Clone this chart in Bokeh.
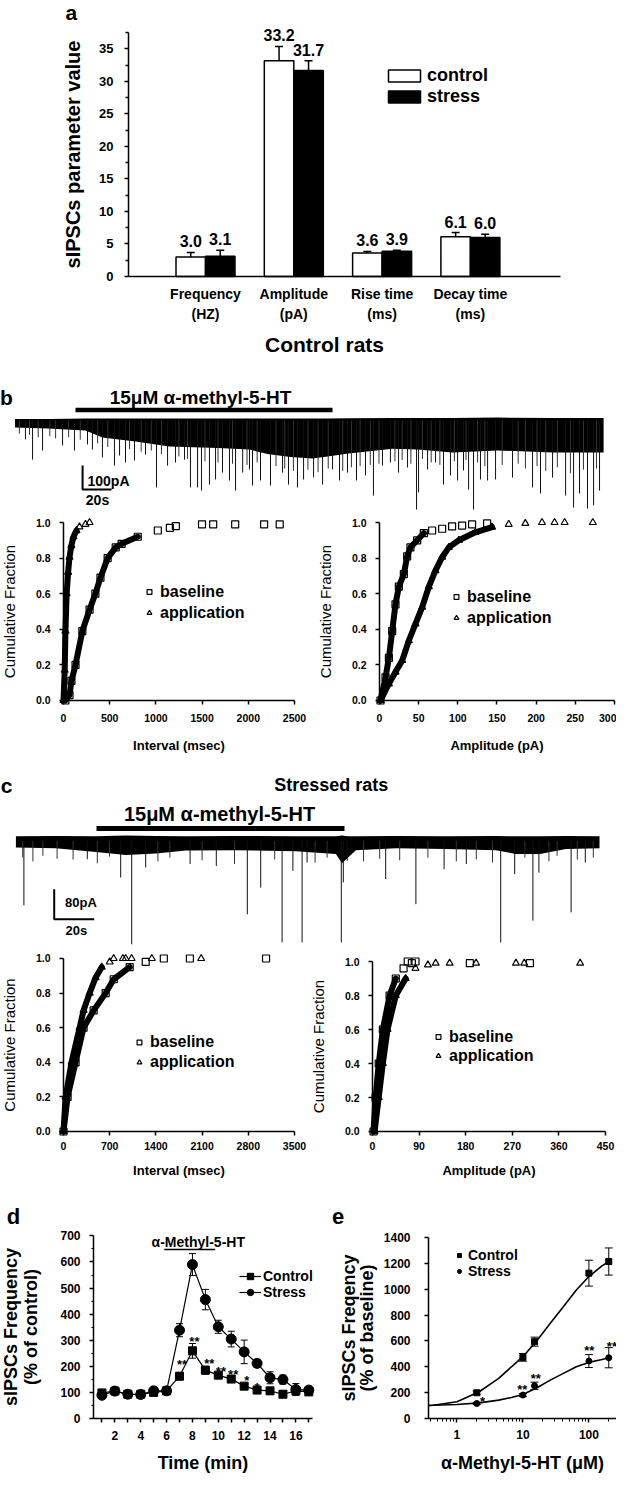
import numpy as np
from bokeh.plotting import figure
from bokeh.models import (Range1d, FixedTicker, Label, Legend, LegendItem, Whisker,
                          ColumnDataSource, TeeHead, PrintfTickFormatter)
from bokeh.layouts import column, row
from bokeh.embed import file_html
from bokeh.resources import INLINE

FONT = "Liberation Sans"

# ---------------- data: panel a ----------------
a_tick_labels = ["Frequency\n(HZ)", "Amplitude\n(pA)", "Rise time\n(ms)", "Decay time\n(ms)"]
a_control = [3.0, 33.2, 3.6, 6.1]
a_stress = [3.1, 31.7, 3.9, 6.0]
a_control_sem = [0.7, 2.2, 0.25, 0.65]
a_stress_sem = [0.95, 1.5, 0.12, 0.5]

# ---------------- data: panel b trace (s, pA) ----------------
b_band_t = [0, 22.4, 48.6, 60.3, 83.1, 106.6, 140, 161.7, 174.1, 190, 205.2, 215.5, 230, 260.3, 277.6, 301.7, 332.8, 370.7, 405.9]
b_band_top = [6, 6, 8, 8, 8, 8, 8, 8, 8, 8, 8, 8, 9, 10, 10, 10, 12, 10, 10]
b_band_bot = [-29, -33, -42, -71, -88, -108, -115, -121, -140, -152, -158, -150, -138, -118, -121, -133, -125, -133, -133]
b_spike_t = [7.2, 12.1, 19.0, 32.8, 41.0, 50.0, 53.4, 60.3, 68.6, 72.1, 76.2, 82.4, 90.0, 97.6, 105.2,
             110.7, 116.9, 121.0, 125.9, 128.6, 134.1, 138.3, 143.1, 147.9, 152.1, 157.0, 161.7, 163.8,
             169.3, 176.2, 184.5, 188.6, 194.8, 199.0, 205.9, 212.1, 219.0, 223.8, 229.3, 235.5, 241.7,
             247.2, 253.4, 258.9, 264.5, 270.7, 276.9, 278.3, 284.5, 290.0, 295.5, 300.3, 305.2, 309.3,
             312.8, 316.2, 321.0, 325.9, 331.4, 343.1, 356.9, 362.4, 370.7, 379.7, 385.2, 389.3, 394.8,
             399.0, 403.1]
b_spike_amp = [-79, -163, -125, -104, -125, -100, -121, -154, -188, -146, -175, -167, -142, -279, -188,
               -175, -163, -279, -279, -292, -267, -246, -217, -250, -292, -217, -204, -271,
               -250, -271, -217, -267, -279, -246, -237, -267, -204, -250, -217, -250, -229,
               -313, -188, -175, -217, -196, -371, -300, -204, -175, -267, -229, -250, -208,
               -288, -371, -246, -250, -246, -238, -279, -304, -238, -313, -363, -304, -367,
               -354, -292]
b_mid_t = [3, 10, 16, 24, 28, 37, 45, 57, 64, 79, 87, 94, 101, 113, 119, 131, 140, 150, 160, 167,
           180, 186, 192, 202, 209, 216, 226, 232, 238, 245, 251, 262, 267, 273, 281, 287, 293, 303,
           311, 319, 324, 336, 347, 352, 360, 366, 374, 383, 392, 401]
b_mid_amp = [-55, -60, -70, -65, -75, -70, -80, -95, -110, -120, -130, -125, -140, -150, -160, -170,
             -175, -180, -185, -175, -190, -200, -210, -205, -215, -200, -210, -195, -190, -185, -180,
             -170, -165, -180, -160, -175, -185, -170, -165, -175, -190, -185, -180, -200, -190, -210,
             -195, -220, -205, -200]
b_drug = [41.7, 219.0]          # application period (s)

# ---------------- data: panel b cumulative ----------------
b_int_app_x = [0, 13, 21, 34, 50, 65, 85, 108, 140, 173, 238, 282]
b_int_app_y = [0.0, 0.17, 0.39, 0.60, 0.72, 0.805, 0.87, 0.92, 0.955, 0.975, 0.99, 1.0]
b_int_base_x = [20, 65, 86, 130, 204, 282, 345, 400, 478, 565, 629, 804, 1021, 1151, 1216]
b_int_base_y = [0.0, 0.03, 0.11, 0.20, 0.39, 0.51, 0.60, 0.69, 0.80, 0.86, 0.88, 0.92, 0.955, 0.97, 0.98]
b_int_base_iso_x = [1499, 1620, 1858, 2171, 2340]
b_int_base_iso_y = [0.99, 0.99, 0.99, 0.99, 0.99]

b_amp_base_x = [1.3, 7.7, 12, 16.2, 20.4, 24.7, 31.1, 35.3, 39.5, 48.1, 56.6, 67.2, 80, 92.7, 105.5, 118.2, 137.4]
b_amp_base_y = [0.0, 0.13, 0.24, 0.39, 0.54, 0.64, 0.71, 0.81, 0.86, 0.90, 0.94, 0.955, 0.965, 0.978, 0.983, 0.99, 0.995]
b_amp_app_x = [1.3, 12, 20.4, 29, 37.5, 45.9, 54.5, 63, 71.4, 80, 88.5, 101.3, 122.4, 143.7, 165, 186.2, 207.5]
b_amp_app_y = [0.0, 0.094, 0.16, 0.225, 0.337, 0.43, 0.524, 0.64, 0.73, 0.805, 0.86, 0.90, 0.945, 0.974, 0.99, 0.995, 1.0]
b_amp_app_iso_x = [223.5, 236.4, 272.4]
b_amp_app_iso_y = [1.0, 1.0, 1.0]

# ---------------- data: panel c trace (s, pA) ----------------
c_band_t = [0, 20, 40, 55, 70, 85, 110, 140, 160, 163, 166, 170, 190, 215, 240, 250, 262, 275, 291.8]
c_band_top = [12, 13, 12, 14, 13, 12, 13, 12, 12, 14, 12, 12, 13, 12, 13, 12, 12, 13, 12]
c_band_bot = [-18, -20, -30, -38, -34, -26, -25, -28, -35, -60, -45, -25, -20, -22, -25, -35, -35, -22, -20]
c_spike_t = [4.0, 35.7, 52.4, 57.9, 64.9, 87.1, 100.2, 115.7, 122.4, 133.1, 138.5, 143.1, 145.6, 162.7,
             163.7, 165.7, 184.9, 200.0, 214.1, 225.2, 242.4, 249.4, 258.5, 261.5, 277.6, 284.7]
c_spike_amp = [-172, -49, -98, -276, -71, -62, -67, -196, -125, -271, -80, -271, -58, -271,
               -111, -53, -102, -169, -76, -62, -271, -89, -213, -85, -191, -58]
c_mid_t = [3.4, 8.5, 13.5, 20.6, 28.6, 40.7, 46.8, 71.0, 77.0, 93.1, 109.3, 129.4, 149.6, 155.6,
           173.8, 181.9, 191.9, 206.0, 220.2, 230.2, 238.3, 254.5, 266.5, 270.6, 280.7, 288.7]
c_mid_amp = [-45, -55, -40, -48, -50, -60, -42, -55, -45, -52, -62, -50, -58, -45, -55, -48, -52,
             -45, -55, -50, -58, -45, -55, -40, -50, -45]
c_drug = [40.3, 164.3]

# ---------------- data: panel c cumulative ----------------
c_int_app_x = [0, 32, 122, 244, 304, 396, 487, 579, 700, 942]
c_int_app_y = [0.0, 0.2, 0.4, 0.6, 0.7, 0.8, 0.89, 0.95, 0.98, 1.0]
c_int_app_iso_x = [760, 900, 1032, 1338, 2086]
c_int_app_iso_y = [1.0, 1.0, 1.0, 1.0, 1.0]
c_int_base_x = [0, 62, 183, 304, 457, 639, 761, 1003, 1246, 1520]
c_int_base_y = [0.0, 0.2, 0.4, 0.6, 0.7, 0.8, 0.88, 0.95, 0.98, 1.0]
c_int_base_iso_x = [1915, 3069]
c_int_base_iso_y = [1.0, 1.0]

c_amp_base_x = [2, 6, 12, 20, 33, 45, 60, 76]
c_amp_base_y = [0.0, 0.2, 0.4, 0.6, 0.8, 0.9, 0.96, 0.99]
c_amp_base_iso_x = [68, 83, 188, 304]
c_amp_base_iso_y = [1.0, 1.0, 0.99, 0.99]
c_amp_app_x = [4, 12, 20, 29, 45, 64, 83, 107]
c_amp_app_y = [0.0, 0.2, 0.4, 0.6, 0.8, 0.9, 0.96, 0.98]
c_amp_app_iso_x = [122, 149, 200, 277, 293, 401]
c_amp_app_iso_y = [0.99, 0.99, 0.99, 0.99, 0.99, 0.99]

# ---------------- data: panel d ----------------
d_time = list(range(1, 18))
d_control = [99, 106, 94, 94, 101, 107, 163, 260, 186, 167, 152, 125, 110, 107, 94, 107, 103]
d_control_sem = [6, 6, 6, 6, 6, 8, 14, 28, 15, 10, 10, 8, 6, 6, 6, 6, 6]
d_stress = [90, 106, 94, 93, 107, 107, 339, 590, 456, 352, 305, 256, 212, 157, 150, 112, 110]
d_stress_sem = [10, 8, 8, 8, 10, 10, 25, 42, 39, 25, 30, 45, 15, 23, 17, 23, 10]
d_star_x = [7.2, 8.15, 9.3, 10.2, 11.15, 12.2, 13.0]
d_star_y = [219, 307, 223, 192, 180, 158, 131]
d_star_text = ["**", "**", "**", "**", "**", "*", "*"]
d_drug = [5.82, 9.76]

# ---------------- data: panel e ----------------
e_conc = [2, 10, 15, 100, 200]
e_control = [199, 473, 594, 1124, 1214]
e_control_sem = [12, 30, 35, 100, 105]
e_stress = [116, 181, 253, 444, 470]
e_stress_sem = [8, 12, 28, 50, 78]
e_fit_conc = [0.37, 0.44, 1, 2.18, 4.3, 6.7, 10, 16.6, 26, 41, 64.5, 100, 158, 200]
e_fit_control = [101, 103, 129, 207, 310, 400, 478, 607, 736, 865, 994, 1098, 1180, 1214]
e_fit_stress = [100, 103, 108, 121, 142, 163, 186, 240, 297, 349, 400, 434, 457, 470]
e_star_x = [2.44, 9.77, 15.7, 101, 223]
e_star_y = [155, 245, 336, 550, 581]
e_star_text = ["*", "**", "**", "**", "**"]


# ---------------- helpers ----------------
def make_fig(w, h, xr, yr, x_axis_type="linear", axes=True):
    kw = {}
    if not axes:
        kw = dict(x_axis_location=None, y_axis_location=None)
    p = figure(width=w, height=h, x_range=Range1d(*xr), y_range=Range1d(*yr),
               min_border=0, min_border_left=0, min_border_right=0, min_border_top=0, min_border_bottom=0,
               output_backend="svg", toolbar_location=None, x_axis_type=x_axis_type, **kw)
    p.xgrid.visible = False
    p.ygrid.visible = False
    p.outline_line_color = None
    return p


def style_axis(ax, size, loc, bounds, tick_out=4, standoff=8, lw=1.5):
    ax.fixed_location = loc
    ax.bounds = bounds
    ax.axis_line_color = "black"
    ax.axis_line_width = lw
    ax.major_tick_line_color = "black"
    ax.major_tick_line_width = lw
    ax.major_tick_in = 0
    ax.major_tick_out = tick_out
    ax.minor_tick_line_color = None
    ax.major_label_text_font = FONT
    ax.major_label_text_font_style = "bold"
    ax.major_label_text_font_size = f"{size}px"
    ax.major_label_text_color = "black"
    ax.major_label_standoff = standoff
    ax.axis_label_text_font = FONT
    ax.axis_label_text_color = "black"


def add_label(p, x, y, text, size, bold=True, align="center", baseline="middle", font=FONT):
    p.add_layout(Label(x=x, y=y, text=text, text_font=font, text_font_size=f"{size}px",
                       text_font_style="bold" if bold else "normal", text_align=align,
                       text_baseline=baseline, text_color="black"))


def add_legend(p, items, loc, gw, gh, lh, standoff, size, spacing=0):
    lg = Legend(items=items, location=loc, orientation="vertical", glyph_width=gw, glyph_height=gh,
                label_height=lh, label_standoff=standoff, spacing=spacing, padding=0, margin=0,
                border_line_color=None, background_fill_alpha=0, label_text_font=FONT,
                label_text_font_size=f"{size}px", label_text_font_style="bold",
                label_text_color="black")
    p.add_layout(lg)


# ---------------- panel a ----------------
pa = make_fig(616, 366, (-1.3216, 5.6546), (-13.846, 42.46))
cats = np.arange(1, 5)
ctrl_x = cats - 0.167
str_x = cats + 0.167
r_ctrl = pa.vbar(x=ctrl_x, top=a_control, width=0.334, fill_color="white", line_color="black", line_width=1.5)
r_str = pa.vbar(x=str_x, top=a_stress, width=0.334, fill_color="black", line_color="black", line_width=1.5)
for xs, mean, sem in ((ctrl_x, a_control, a_control_sem), (str_x, a_stress, a_stress_sem)):
    up = np.add(mean, sem)
    src = ColumnDataSource(dict(x=xs, lower=mean, upper=up))
    pa.add_layout(Whisker(source=src, base="x", lower="lower", upper="upper", dimension="height",
                          line_color="black", line_width=1.5, lower_head=None,
                          upper_head=TeeHead(size=8, line_width=1.5, line_color="black")))
    for xi, u, m in zip(xs, up, mean):
        add_label(pa, xi, u + 11 / 6.5, f"{m:.1f}", 16)
style_axis(pa.yaxis[0], 13, 0.128, (0, 37.54), tick_out=4, standoff=11)
pa.yaxis.ticker = FixedTicker(ticks=list(range(0, 36, 5)), minor_ticks=[2.5 + 5 * i for i in range(8)])
pa.yaxis.minor_tick_line_color = "black"
pa.yaxis.minor_tick_line_width = 1.5
pa.yaxis.minor_tick_in = 0
pa.yaxis.minor_tick_out = 3
pa.yaxis.axis_label = "sIPSCs parameter value"
pa.yaxis.axis_label_text_font_size = "20px"
pa.yaxis.axis_label_text_font_style = "bold"
pa.yaxis.axis_label_standoff = 12
style_axis(pa.xaxis[0], 14, 0, (0.128, 5.02), tick_out=0, standoff=10)
pa.xaxis.ticker = FixedTicker(ticks=[1, 2, 3, 4])
pa.xaxis.major_tick_line_color = None
pa.xaxis.major_label_overrides = {int(i): lab for i, lab in zip(cats, a_tick_labels)}
add_label(pa, 2.348, -10.46, "Control rats", 21)
add_label(pa, -0.518, 40.6, "a", 21)
add_legend(pa, [LegendItem(label="control", renderers=[r_ctrl]), LegendItem(label="stress", renderers=[r_str])],
           (384, 259), 40, 15, 20, 3, 18)

# ---------------- panel b trace ----------------
pbt = make_fig(616, 151, (-10.0, 414.8), (-404.2, 225), axes=False)
pbt.varea(x=b_band_t, y1=b_band_bot, y2=b_band_top, fill_color="black")
pbt.segment(x0=b_mid_t, y0=[0] * len(b_mid_t), x1=b_mid_t, y1=b_mid_amp, line_color="#333333", line_width=1)
pbt.segment(x0=b_spike_t, y0=[0] * len(b_spike_t), x1=b_spike_t, y1=b_spike_amp, line_color="#111111", line_width=1)
pbt.line(x=b_drug, y=[43.75, 43.75], line_color="black", line_width=4.5)
pbt.line(x=[46.6, 46.6, 66.6], y=[-187.5, -287.5, -287.5], line_color="black", line_width=2)
add_label(pbt, -5.9, 95.8, "b", 21)
add_label(pbt, 127.9, 97, "15μM α-methyl-5-HT", 19)
add_label(pbt, 50.0, -254, "100pA", 14, align="left")
add_label(pbt, 56.9, -333, "20s", 14)


# ---------------- cumulative helpers ----------------
def cum_fig(w, h, xr, yr, xmax, xticks, xlabel, tick_standoff_x, label_standoff_x):
    p = make_fig(w, h, xr, yr)
    style_axis(p.yaxis[0], 10.5, 0, (0, 1.0), tick_out=4, standoff=9)
    p.yaxis.ticker = FixedTicker(ticks=[0, 0.2, 0.4, 0.6, 0.8, 1.0])
    p.yaxis.formatter = PrintfTickFormatter(format="%.1f")
    p.yaxis.axis_label = "Cumulative Fraction"
    p.yaxis.axis_label_text_font_size = "15px"
    p.yaxis.axis_label_text_font_style = "normal"
    p.yaxis.axis_label_standoff = 15
    style_axis(p.xaxis[0], 10.5, 0, (0, xmax), tick_out=4, standoff=tick_standoff_x)
    p.xaxis.ticker = FixedTicker(ticks=xticks)
    p.xaxis.axis_label = xlabel
    p.xaxis.axis_label_text_font_size = "13px"
    p.xaxis.axis_label_text_font_style = "bold"
    p.xaxis.axis_label_standoff = label_standoff_x
    return p


def draw_curve(p, xs, ys, marker, dense_max=0.95, lw=6):
    dx = [x for x, y in zip(xs, ys) if y <= dense_max]
    dy = [y for y in ys if y <= dense_max]
    p.line(x=dx, y=dy, line_color="black", line_width=lw, line_join="round", line_cap="round")
    p.scatter(x=xs, y=ys, marker=marker, size=7, fill_color=None, line_color="black", line_width=1.2)


def draw_iso(p, xs, ys, marker):
    p.scatter(x=xs, y=ys, marker=marker, size=7, fill_color=None, line_color="black", line_width=1.2)


def cum_legend(p, loc, standoff, lh, far_x):
    rs = p.scatter(x=[far_x], y=[-50], marker="square", size=7, fill_color=None, line_color="black", line_width=1.2)
    rt = p.scatter(x=[far_x], y=[-50], marker="triangle", size=7, fill_color=None, line_color="black", line_width=1.2)
    add_legend(p, [LegendItem(label="baseline", renderers=[rs]), LegendItem(label="application", renderers=[rt])],
               loc, 12, lh, lh, standoff, 16)


# b cumulative
pbl = cum_fig(310, 249, (-681.8, 2673.2), (-0.3708, 1.0281), 2500, [0, 500, 1000, 1500, 2000, 2500],
              "Interval (msec)", 10, 12)
draw_curve(pbl, b_int_base_x, b_int_base_y, "square")
draw_iso(pbl, b_int_base_iso_x, b_int_base_iso_y, "square")
draw_curve(pbl, b_int_app_x, b_int_app_y, "triangle", dense_max=0.97)
cum_legend(pbl, (143, 143), 5, 21, -1e5)

pbr = cum_fig(306, 249, (-88.1, 302.6), (-0.3708, 1.0281), 300, [0, 50, 100, 150, 200, 250, 300],
              "Amplitude (pA)", 10, 12)
draw_curve(pbr, b_amp_base_x, b_amp_base_y, "square")
draw_curve(pbr, b_amp_app_x, b_amp_app_y, "triangle", dense_max=0.975)
draw_iso(pbr, b_amp_app_iso_x, b_amp_app_iso_y, "triangle")
cum_legend(pbr, (140, 138), 5, 21, -1e5)

# ---------------- panel c trace ----------------
pct = make_fig(616, 183, (-7.7, 300.3), (-289.9, 198.1), axes=False)
pct.varea(x=c_band_t, y1=c_band_bot, y2=c_band_top, fill_color="black")
pct.segment(x0=c_mid_t, y0=[0] * len(c_mid_t), x1=c_mid_t, y1=c_mid_amp, line_color="#333333", line_width=1)
pct.segment(x0=c_spike_t, y0=[0] * len(c_spike_t), x1=c_spike_t, y1=c_spike_amp, line_color="#111111", line_width=1)
pct.line(x=c_drug, y=[32.8, 32.8], line_color="black", line_width=5)
pct.line(x=[19.15, 19.15, 39.15], y=[-129, -209, -209], line_color="black", line_width=2)
add_label(pct, -4.7, 147.5, "c", 21)
add_label(pct, 157.7, 147.5, "Stressed rats", 18)
add_label(pct, 101.8, 71, "15μM α-methyl-5-HT", 20)
add_label(pct, 24.6, -164.5, "80pA", 13, align="left")
add_label(pct, 30.2, -238.4, "20s", 13)

# c cumulative
pcl = cum_fig(308, 239, (-954.5, 3712.1), (-0.3295, 1.052), 3500, [0, 700, 1400, 2100, 2800, 3500],
              "Interval (msec)", 7, 9)
draw_curve(pcl, c_int_base_x, c_int_base_y, "square")
draw_iso(pcl, c_int_base_iso_x, c_int_base_iso_y, "square")
draw_curve(pcl, c_int_app_x, c_int_app_y, "triangle")
draw_iso(pcl, c_int_app_iso_x, c_int_app_iso_y, "triangle")
cum_legend(pcl, (133, 116), 5, 20, -1e5)

pcr = cum_fig(308, 239, (-123.6, 471.2), (-0.3353, 1.0706), 450, [0, 90, 180, 270, 360, 450],
              "Amplitude (pA)", 7, 9)
draw_curve(pcr, c_amp_base_x, c_amp_base_y, "square")
draw_iso(pcr, c_amp_base_iso_x, c_amp_base_iso_y, "square")
draw_curve(pcr, c_amp_app_x, c_amp_app_y, "triangle")
draw_iso(pcr, c_amp_app_iso_x, c_amp_app_iso_y, "triangle")
cum_legend(pcr, (124, 123), 5, 19, -1e5)

# ---------------- panel d ----------------
pd_ = make_fig(320, 288, (-6.845, 17.904), (-220.7, 881.0))
for ys, sem in ((d_stress, d_stress_sem), (d_control, d_control_sem)):
    src = ColumnDataSource(dict(x=d_time, lower=np.subtract(ys, sem), upper=np.add(ys, sem)))
    pd_.add_layout(Whisker(source=src, base="x", lower="lower", upper="upper", dimension="height",
                           line_color="black", line_width=1,
                           lower_head=TeeHead(size=7, line_width=1, line_color="black"),
                           upper_head=TeeHead(size=7, line_width=1, line_color="black")))
pd_.line(x=d_time, y=d_stress, line_color="black", line_width=1.2)
pd_.line(x=d_time, y=d_control, line_color="black", line_width=1.2)
pd_.scatter(x=d_time, y=d_stress, marker="circle", size=10, color="black")
pd_.scatter(x=d_time, y=d_control, marker="square", size=8, color="black")
for sx, sy, st in zip(d_star_x, d_star_y, d_star_text):
    add_label(pd_, sx, sy - 11.5, st, 13)
pd_.line(x=d_drug, y=[647.7, 647.7], line_color="black", line_width=1.5)
add_label(pd_, 8.45, 678, "α-Methyl-5-HT", 14)
add_label(pd_, -5.84, 774, "d", 22)
style_axis(pd_.xaxis[0], 12, 0, (0.35, 17.29), tick_out=4, standoff=8)
pd_.xaxis.ticker = FixedTicker(ticks=d_time)
pd_.xaxis.major_label_overrides = {t: (str(t) if t % 2 == 0 else "") for t in d_time}
pd_.xaxis.axis_label = "Time (min)"
pd_.xaxis.axis_label_text_font_size = "18px"
pd_.xaxis.axis_label_text_font_style = "bold"
pd_.xaxis.axis_label_standoff = 10
style_axis(pd_.yaxis[0], 12, 0.35, (0, 700), tick_out=4, standoff=9)
pd_.yaxis.ticker = FixedTicker(ticks=list(range(0, 701, 100)), minor_ticks=list(range(50, 700, 100)))
pd_.yaxis.minor_tick_line_color = "black"
pd_.yaxis.minor_tick_in = 0
pd_.yaxis.minor_tick_out = 2
pd_.yaxis.axis_label = "sIPSCs Frequency\n(% of control)"
pd_.yaxis.axis_label_text_font_size = "18px"
pd_.yaxis.axis_label_text_font_style = "bold"
pd_.yaxis.axis_label_text_line_height = 1.0
pd_.yaxis.axis_label_standoff = 16
dl1 = pd_.line(x=[-100, -99], y=[-1000, -1000], line_color="black", line_width=1.2)
ds1 = pd_.scatter(x=[-100], y=[-1000], marker="square", size=5, color="black")
dl2 = pd_.line(x=[-100, -99], y=[-1000, -1000], line_color="black", line_width=1.2)
ds2 = pd_.scatter(x=[-100], y=[-1000], marker="circle", size=5, color="black")
add_legend(pd_, [LegendItem(label="Control", renderers=[dl1, ds1]), LegendItem(label="Stress", renderers=[dl2, ds2])],
           (239, 176), 22, 16, 16, 2, 14)

# ---------------- panel e ----------------
pe = make_fig(296, 288, (0.008577, 261.9), (-448.6, 1778.8), x_axis_type="log")
for ys, sem in ((e_control, e_control_sem), (e_stress, e_stress_sem)):
    src = ColumnDataSource(dict(x=e_conc, lower=np.subtract(ys, sem), upper=np.add(ys, sem)))
    pe.add_layout(Whisker(source=src, base="x", lower="lower", upper="upper", dimension="height",
                          line_color="black", line_width=1,
                          lower_head=TeeHead(size=8, line_width=1, line_color="black"),
                          upper_head=TeeHead(size=8, line_width=1, line_color="black")))
pe.line(x=e_fit_conc, y=e_fit_control, line_color="black", line_width=1.6)
pe.line(x=e_fit_conc, y=e_fit_stress, line_color="black", line_width=1.6)
pe.scatter(x=e_conc, y=e_control, marker="square", size=6, color="black")
pe.scatter(x=e_conc, y=e_stress, marker="circle", size=6, color="black")
for sx, sy, st in zip(e_star_x, e_star_y, e_star_text):
    add_label(pe, sx, sy - 23, st, 13)
add_label(pe, 0.0158, 1562, "e", 22)
style_axis(pe.xaxis[0], 12, 0, (0.371, 261.9), tick_out=4, standoff=8)
pe.xaxis.ticker = FixedTicker(ticks=[1, 10, 100],
                              minor_ticks=[0.4, 0.5, 0.6, 0.7, 0.8, 0.9, 2, 3, 4, 5, 6, 7, 8, 9,
                                           20, 30, 40, 50, 60, 70, 80, 90, 200])
pe.xaxis.minor_tick_line_color = "black"
pe.xaxis.minor_tick_in = 0
pe.xaxis.minor_tick_out = 3
pe.xaxis.major_label_overrides = {1: "1", 10: "10", 100: "100"}
pe.xaxis.axis_label = "α-Methyl-5-HT (μM)"
pe.xaxis.axis_label_text_font_size = "18px"
pe.xaxis.axis_label_text_font_style = "bold"
pe.xaxis.axis_label_standoff = 10
style_axis(pe.yaxis[0], 12, 0.371, (0, 1400), tick_out=4, standoff=14)
pe.yaxis.ticker = FixedTicker(ticks=list(range(0, 1401, 200)))
pe.yaxis.axis_label = "sIPSCs Freqency\n(% of baseline)"
pe.yaxis.axis_label_text_font_size = "18px"
pe.yaxis.axis_label_text_font_style = "bold"
pe.yaxis.axis_label_text_line_height = 0.9
pe.yaxis.axis_label_standoff = 4
es = pe.scatter(x=[0.001], y=[-5000], marker="square", size=6, color="black")
ec = pe.scatter(x=[0.001], y=[-5000], marker="circle", size=6, color="black")
add_legend(pe, [LegendItem(label="Control", renderers=[es]), LegendItem(label="Stress", renderers=[ec])],
           (134, 197), 10, 16, 16, 4, 14)

layout = column(row(pa), row(pbt), row(pbl, pbr, spacing=0), row(pct), row(pcl, pcr, spacing=0),
                row(pd_, pe, spacing=0), spacing=0)

with open("out.html", "w") as f:
    f.write(file_html(layout, INLINE))
